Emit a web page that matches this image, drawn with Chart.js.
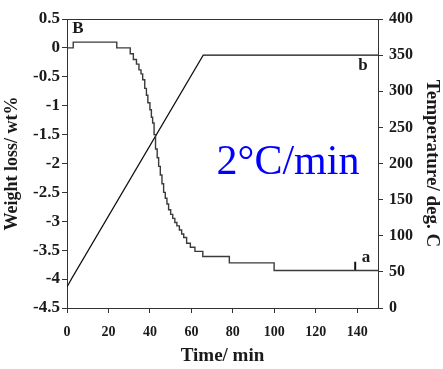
<!DOCTYPE html>
<html>
<head>
<meta charset="utf-8">
<script src="https://cdn.jsdelivr.net/npm/chart.js@4"></script>
<style>
  html, body { margin: 0; padding: 0; background: #fff; }
  canvas { display: block; }
</style>
</head>
<body>
<canvas id="chart" width="443" height="369"></canvas>
<script>
// Weight loss (step curve): level holds from each time until the next one.
const weightTime = [0, 3, 24, 30.5, 32, 33.5, 34.7, 35.7, 36.5, 37.5, 38.3, 39, 40, 40.7, 41.3, 42, 42.7,
  43.5, 44.2, 45, 45.8, 46.6, 47.4, 48.2, 49, 50, 51, 52, 53, 54.2, 55.3, 56.3, 57.7, 59.5, 61.7, 65.5,
  78.3, 99.9, 150];
const weightLoss = [0, 0.1, 0, -0.1, -0.2, -0.28, -0.38, -0.45, -0.55, -0.7, -0.82, -0.95, -1.07, -1.2,
  -1.3, -1.5, -1.75, -1.9, -2.05, -2.2, -2.35, -2.5, -2.6, -2.7, -2.8, -2.88, -2.95, -3.02, -3.08, -3.15,
  -3.22, -3.28, -3.38, -3.45, -3.52, -3.61, -3.72, -3.85, -3.85];

// Furnace temperature ramp
const tempTime = [0, 2.3, 65.7, 150];
const temperature = [29, 41, 350, 350];

// Small pointer mark next to label "a"
const markTime = [139, 139];
const markWeight = [-3.86, -3.7];

const weightTicks = [0.5, 0, -0.5, -1, -1.5, -2, -2.5, -3, -3.5, -4, -4.5];
const timeTicks = [0, 20, 40, 60, 80, 100, 120, 140];

const SERIF = '"Liberation Serif", "Times New Roman", serif';
const INK = "#1a1a1a";

function pts(xs, ys) {
  return xs.map((x, i) => ({ x, y: ys[i] }));
}

// Frame line on top plus the text labels inside the plot.
const decor = {
  id: "decor",
  afterDraw(chart) {
    const { ctx, chartArea: a, scales } = chart;
    ctx.save();
    ctx.strokeStyle = "#333";
    ctx.lineWidth = 1;
    ctx.beginPath();
    ctx.moveTo(a.left, a.top + 0.5);
    ctx.lineTo(a.right, a.top + 0.5);
    ctx.stroke();

    ctx.textAlign = "center";
    ctx.textBaseline = "middle";
    ctx.fillStyle = INK;
    ctx.font = `bold 17px ${SERIF}`;
    ctx.fillText("B", scales.x.getPixelForValue(5.3), scales.y.getPixelForValue(0.34));
    ctx.fillText("b", scales.x.getPixelForValue(142.8), scales.y2.getPixelForValue(335));
    ctx.fillText("a", scales.x.getPixelForValue(144.2), scales.y.getPixelForValue(-3.62));

    ctx.fillStyle = "#0000ff";
    ctx.font = `42px ${SERIF}`;
    ctx.fillText("2°C/min", scales.x.getPixelForValue(106.6), scales.y.getPixelForValue(-1.99));
    ctx.restore();
  },
};

const axisLine = { display: true, color: "#333", width: 1 };
const tickGrid = { drawOnChartArea: false, drawTicks: true, tickLength: 5, tickColor: "#333" };

new Chart(document.getElementById("chart"), {
  type: "scatter",
  data: {
    datasets: [
      {
        data: pts(weightTime, weightLoss),
        yAxisID: "y",
        showLine: true,
        stepped: "before",
        borderColor: "#3a3a3a",
        borderWidth: 1.4,
        pointRadius: 0,
      },
      {
        data: pts(tempTime, temperature),
        yAxisID: "y2",
        showLine: true,
        borderColor: "#111",
        borderWidth: 1.2,
        pointRadius: 0,
      },
      {
        data: pts(markTime, markWeight),
        yAxisID: "y",
        showLine: true,
        borderColor: "#111",
        borderWidth: 2,
        pointRadius: 0,
      },
    ],
  },
  options: {
    responsive: false,
    animation: false,
    layout: { padding: { top: 19, left: 0, right: 0, bottom: 0 } },
    plugins: { legend: { display: false }, tooltip: { enabled: false } },
    scales: {
      x: {
        type: "linear",
        min: 0,
        max: 150,
        afterFit: (s) => { s.height = 61; },
        afterBuildTicks: (s) => { s.ticks = timeTicks.map((v) => ({ value: v })); },
        border: axisLine,
        grid: tickGrid,
        ticks: { padding: 11, color: INK, font: { family: SERIF, size: 14, weight: "bold" } },
        title: {
          display: true,
          text: "Time/ min",
          color: INK,
          padding: { top: 0, bottom: 2 },
          font: { family: SERIF, size: 19, weight: "bold" },
        },
      },
      y: {
        position: "left",
        min: -4.5,
        max: 0.5,
        afterFit: (s) => { s.width = 67; },
        afterBuildTicks: (s) => { s.ticks = weightTicks.map((v) => ({ value: v })); },
        border: axisLine,
        grid: tickGrid,
        ticks: {
          padding: 2,
          color: INK,
          font: { family: SERIF, size: 17, weight: "bold" },
          callback: (v) => String(v),
        },
        title: {
          display: true,
          text: "Weight loss/ wt%",
          color: INK,
          padding: { top: 2, bottom: 0 },
          font: { family: SERIF, size: 18, weight: "bold" },
        },
      },
      y2: {
        position: "right",
        min: 0,
        max: 400,
        afterFit: (s) => { s.width = 65; },
        border: axisLine,
        grid: tickGrid,
        ticks: { stepSize: 50, padding: 6, color: INK, font: { family: SERIF, size: 16, weight: "bold" } },
        title: {
          display: true,
          text: "Temperature/ deg. C",
          color: INK,
          padding: { top: 0, bottom: 1 },
          font: { family: SERIF, size: 19, weight: "bold" },
        },
      },
    },
  },
  plugins: [decor],
});
</script>
</body>
</html>
